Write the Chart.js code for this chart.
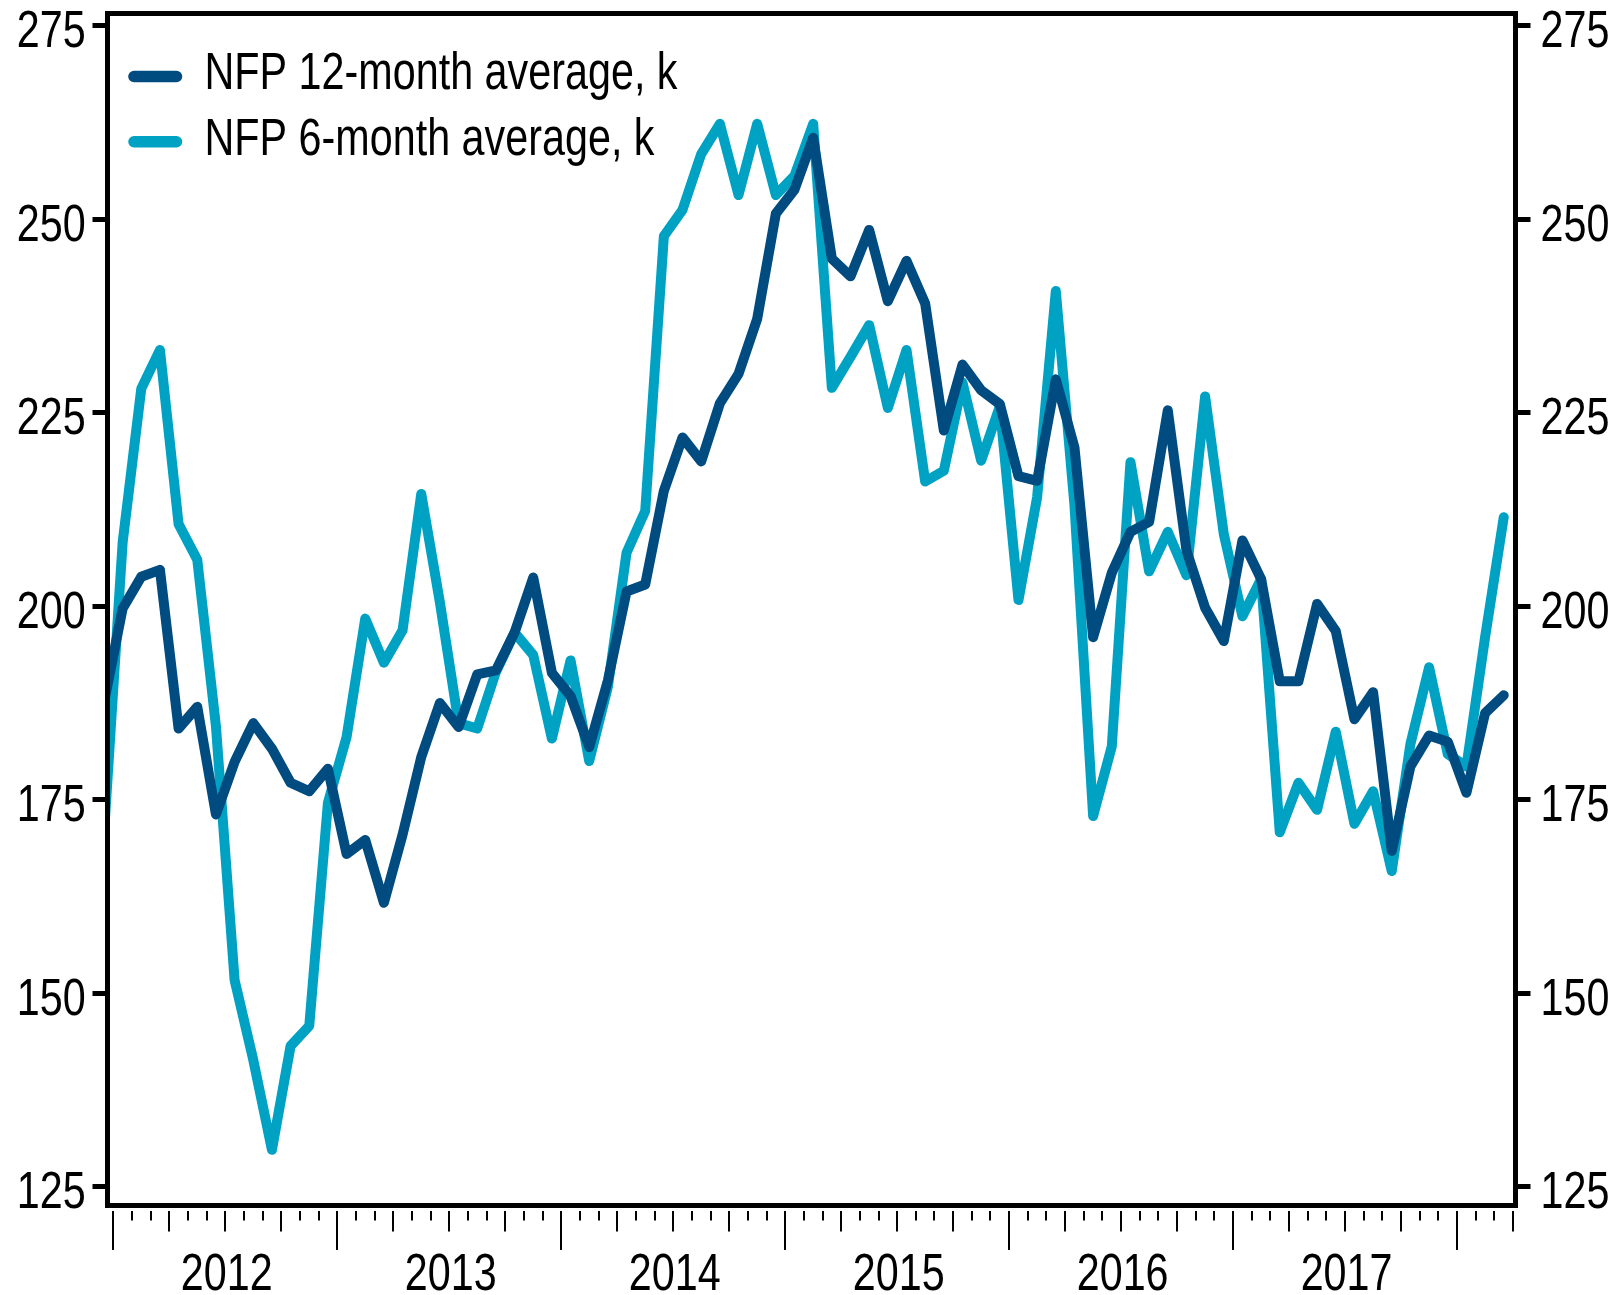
<!DOCTYPE html>
<html>
<head>
<meta charset="utf-8">
<script src="https://cdn.jsdelivr.net/npm/chart.js@4.4.1/dist/chart.umd.min.js"></script>
<style>
  html, body { margin: 0; padding: 0; background: #ffffff; }
  #wrap { width: 1613px; height: 1295px; }
</style>
</head>
<body>
<div id="wrap"><canvas id="c" width="1613" height="1295"></canvas></div>
<script>
// Months: Dec 2011 .. Mar 2018
const months = [
  "2011-12",
  "2012-01","2012-02","2012-03","2012-04","2012-05","2012-06","2012-07","2012-08","2012-09","2012-10","2012-11","2012-12",
  "2013-01","2013-02","2013-03","2013-04","2013-05","2013-06","2013-07","2013-08","2013-09","2013-10","2013-11","2013-12",
  "2014-01","2014-02","2014-03","2014-04","2014-05","2014-06","2014-07","2014-08","2014-09","2014-10","2014-11","2014-12",
  "2015-01","2015-02","2015-03","2015-04","2015-05","2015-06","2015-07","2015-08","2015-09","2015-10","2015-11","2015-12",
  "2016-01","2016-02","2016-03","2016-04","2016-05","2016-06","2016-07","2016-08","2016-09","2016-10","2016-11","2016-12",
  "2017-01","2017-02","2017-03","2017-04","2017-05","2017-06","2017-07","2017-08","2017-09","2017-10","2017-11","2017-12",
  "2018-01","2018-02","2018-03"
];

const nfp12 = [
  187.5,
  199.7, 203.8, 204.7, 184.2, 187.0, 173.1, 179.9, 184.9, 181.6, 177.2, 176.1, 179.0,
  168.0, 169.8, 161.7, 170.5, 180.5, 187.5, 184.4, 191.2, 191.7, 196.6, 203.7, 191.4,
  188.4, 181.8, 190.4, 201.9, 202.8, 214.9, 221.8, 218.7, 226.2, 230.0, 237.1, 250.7,
  253.8, 260.5, 244.9, 242.6, 248.6, 239.4, 244.6, 239.1, 222.7, 231.2, 227.9, 226.1,
  216.8, 216.2, 229.3, 220.5, 196.0, 204.3, 209.6, 210.9, 225.3, 207.2, 199.8, 195.5,
  208.5, 203.5, 190.3, 190.3, 200.3, 196.8, 185.4, 188.9, 168.4, 179.3, 183.3, 182.5,
  175.9, 186.2, 188.5
];

const nfp6 = [
  170.5,
  208.2, 228.1, 233.1, 210.6, 206.0, 184.5, 151.7, 141.4, 129.8, 143.2, 145.8, 174.6,
  183.1, 198.4, 192.7, 196.9, 214.5, 200.5, 184.9, 184.2, 191.5, 196.6, 193.7, 182.9,
  193.0, 180.0, 189.6, 206.9, 212.3, 247.8, 251.2, 258.4, 262.3, 253.1, 262.3, 253.1,
  255.6, 262.3, 228.2, 232.2, 236.3, 225.6, 233.1, 216.1, 217.5, 228.9, 218.8, 225.8,
  200.8, 214.1, 240.7, 213.0, 172.9, 181.9, 218.6, 204.5, 209.6, 204.0, 227.1, 209.3,
  198.7, 203.5, 170.8, 177.2, 173.7, 183.8, 171.9, 176.1, 165.8, 182.2, 192.1, 180.9,
  179.3, 196.0, 211.5
];

const seriesNames = ["NFP 12-month average, k", "NFP 6-month average, k"];
const yearLabels = ["2012", "2013", "2014", "2015", "2016", "2017"];
const yTicks = [125, 150, 175, 200, 225, 250, 275];

// ---- styling / layout (not data) ----
const FONT = "'Liberation Sans', Arial, sans-serif";
const FONT_SIZE = 51;
const SQUEEZE = 0.81;        // horizontal condensing, narrow-font look
const DARK = '#004b7f';
const CYAN = '#00a2c3';
const Y_MIN = 122.6, Y_MAX = 276.55;
const X_MIN = -0.31, X_MAX = 75.13;   // month units, 0 = start of Jan 2012
const AREA = { left: 107.5, right: 1515.5, top: 13.5, bottom: 1205.5 };

// month m (0 = Jan 2012) is plotted at its month centre
const toPoints = arr => arr.map((v, i) => ({ x: i - 0.5, y: v }));
const yearMids = yearLabels.map((_, k) => k * 12 + 6);

function narrowText(ctx, text, x, y, align) {
  ctx.save();
  ctx.translate(x, y);
  ctx.scale(SQUEEZE, 1);
  ctx.textAlign = align;
  ctx.textBaseline = 'alphabetic';
  ctx.fillText(text, 0, 0);
  ctx.restore();
}

const textAndTicksPlugin = {
  id: 'textAndTicks',
  afterDraw(chart) {
    const ctx = chart.ctx;
    const xs = chart.scales.x;
    const ys = chart.scales.y;
    const area = chart.chartArea;
    ctx.save();
    // monthly tick marks below the frame
    ctx.strokeStyle = '#000';
    ctx.lineWidth = 2;
    for (let k = 0; k < months.length; k++) {
      const px = xs.getPixelForValue(k);
      if (px < area.left || px > area.right) continue;
      let len = 9.5;
      if (k % 12 === 0) len = 39;
      else if (k % 3 === 0) len = 20.5;
      ctx.beginPath();
      ctx.moveTo(Math.round(px), area.bottom + 5.5);
      ctx.lineTo(Math.round(px), area.bottom + 5.5 + len);
      ctx.stroke();
    }
    // frame with clean corners
    ctx.lineWidth = 5;
    ctx.strokeRect(area.left, area.top, area.right - area.left, area.bottom - area.top);

    // text
    ctx.fillStyle = '#000';
    ctx.font = FONT_SIZE + 'px ' + FONT;
    yTicks.forEach(v => {
      const py = ys.getPixelForValue(v);
      narrowText(ctx, String(v), area.left - 21.8, py + 21.5, 'right');
      narrowText(ctx, String(v), area.right + 25, py + 21.5, 'left');
    });
    yearLabels.forEach((lab, k) => {
      const px = xs.getPixelForValue(yearMids[k]);
      narrowText(ctx, lab, px + 1.5, area.bottom + 84.5, 'center');
    });

    // legend inside the plot
    chart.data.datasets.forEach((ds, i) => {
      const yc = 76.5 + i * 65.3;
      ctx.strokeStyle = ds.borderColor;
      ctx.lineWidth = 11.5;
      ctx.lineCap = 'round';
      ctx.beginPath();
      ctx.moveTo(134, yc);
      ctx.lineTo(176.5, yc);
      ctx.stroke();
      ctx.fillStyle = '#000';
      narrowText(ctx, ds.label, 204.5, 88.5 + i * 66, 'left');
    });
    ctx.restore();
  }
};

const yAxisCommon = {
  type: 'linear',
  min: Y_MIN,
  max: Y_MAX,
  z: 1,
  afterBuildTicks: s => { s.ticks = yTicks.map(v => ({ value: v })); },
  ticks: { display: false, includeBounds: false },
  grid: {
    display: true,
    drawOnChartArea: false,
    drawTicks: true,
    tickLength: 15,
    tickWidth: 5,
    tickColor: '#000',
    color: '#000'
  },
  border: { display: true, color: '#000', width: 5 }
};

new Chart(document.getElementById('c'), {
  type: 'line',
  data: {
    datasets: [
      {
        label: seriesNames[0],
        data: toPoints(nfp12),
        borderColor: DARK,
        backgroundColor: DARK,
        borderWidth: 10,
        pointRadius: 0,
        tension: 0,
        borderJoinStyle: 'round',
        borderCapStyle: 'round',
        clip: 0
      },
      {
        label: seriesNames[1],
        data: toPoints(nfp6),
        borderColor: CYAN,
        backgroundColor: CYAN,
        borderWidth: 10,
        pointRadius: 0,
        tension: 0,
        borderJoinStyle: 'round',
        borderCapStyle: 'round',
        clip: 0
      }
    ]
  },
  options: {
    responsive: false,
    animation: false,
    devicePixelRatio: 1,
    layout: { padding: 0 },
    plugins: {
      legend: { display: false },
      tooltip: { enabled: false }
    },
    scales: {
      x: {
        type: 'linear',
        position: 'bottom',
        min: X_MIN,
        max: X_MAX,
        z: 1,
        afterBuildTicks: s => { s.ticks = yearMids.map(v => ({ value: v })); },
        afterFit: s => { s.height = 1295 - AREA.bottom; },
        ticks: { display: false },
        grid: { display: false, drawTicks: false },
        border: { display: true, color: '#000', width: 5 }
      },
      xTop: {
        type: 'linear',
        position: 'top',
        min: X_MIN,
        max: X_MAX,
        z: 1,
        afterFit: s => { s.height = AREA.top; },
        ticks: { display: false },
        grid: { display: false, drawTicks: false },
        border: { display: true, color: '#000', width: 5 }
      },
      y: Object.assign({}, yAxisCommon, {
        position: 'left',
        afterFit: s => { s.width = AREA.left; }
      }),
      y2: Object.assign({}, yAxisCommon, {
        position: 'right',
        afterFit: s => { s.width = 1613 - AREA.right; }
      })
    }
  },
  plugins: [textAndTicksPlugin]
});
</script>
</body>
</html>
